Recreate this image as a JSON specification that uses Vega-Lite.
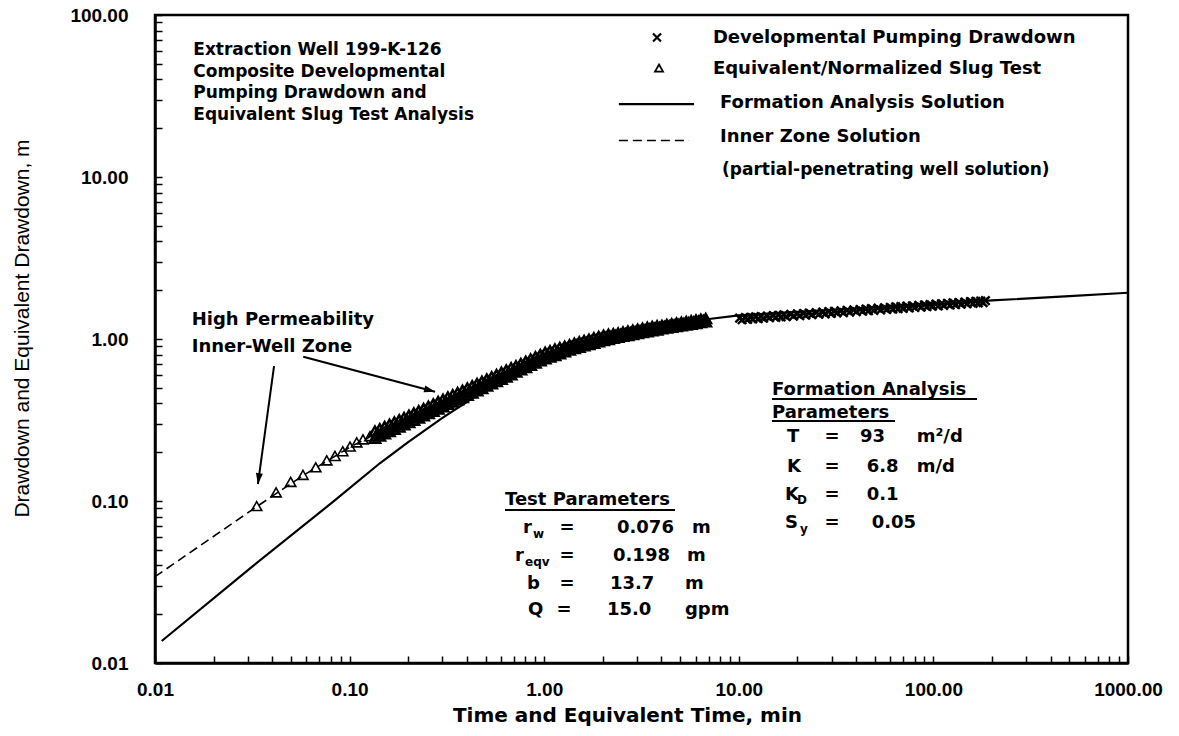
{
  "$schema": "https://vega.github.io/schema/vega-lite/v6.json",
  "width": 973,
  "height": 648,
  "autosize": {"type": "none"},
  "padding": {"left": 155, "top": 15, "right": 51, "bottom": 73},
  "background": "white",
  "config": {
    "view": {"stroke": "black", "strokeWidth": 2.5},
    "axis": {
      "domainColor": "black", "domainWidth": 2.5,
      "tickColor": "black", "tickWidth": 1.5, "tickSize": -7,
      "labelFont": "Liberation Sans", "labelFontWeight": "bold", "labelFontSize": 19, "labelColor": "black",
      "labelFlush": false, "labelOverlap": false, "grid": false,
      "titleColor": "black"
    },
    "text": {"font": "DejaVu Sans", "fontWeight": "bold", "fontSize": 18, "color": "black"}
  },
  "datasets": {
    "inner": [
      {"t": 0.01, "s": 0.0341}, {"t": 0.0333, "s": 0.0922}, {"t": 0.0576, "s": 0.1436},
      {"t": 0.1005, "s": 0.215}, {"t": 0.1273, "s": 0.249}, {"t": 0.2, "s": 0.322}, {"t": 0.3, "s": 0.40}
    ],
    "formation": [
      {"t": 0.01083, "s": 0.01367}, {"t": 0.0308, "s": 0.0384}, {"t": 0.0824, "s": 0.0991},
      {"t": 0.143, "s": 0.171}, {"t": 0.2, "s": 0.231}, {"t": 0.3, "s": 0.326}, {"t": 0.45, "s": 0.448},
      {"t": 0.6, "s": 0.55}, {"t": 0.8, "s": 0.655},
      {"t": 1.0, "s": 0.735}, {"t": 1.5, "s": 0.87}, {"t": 2.0, "s": 0.96}, {"t": 3.0, "s": 1.09},
      {"t": 4.5, "s": 1.21}, {"t": 6.7, "s": 1.32}, {"t": 10, "s": 1.40}, {"t": 20, "s": 1.47},
      {"t": 50, "s": 1.565}, {"t": 100, "s": 1.645}, {"t": 200, "s": 1.73}, {"t": 500, "s": 1.84},
      {"t": 1000, "s": 1.93}
    ],
    "slug": [
      {"t": 0.0333, "s": 0.0922}, {"t": 0.0419, "s": 0.112}, {"t": 0.0498, "s": 0.130},
      {"t": 0.0576, "s": 0.1436}, {"t": 0.0670, "s": 0.160}, {"t": 0.0763, "s": 0.1766},
      {"t": 0.0841, "s": 0.188}, {"t": 0.0922, "s": 0.201}, {"t": 0.1005, "s": 0.215},
      {"t": 0.1088, "s": 0.228}, {"t": 0.1172, "s": 0.238}, {"t": 0.1273, "s": 0.249},
      {"t": 0.1349, "s": 0.2672}, {"t": 0.1349, "s": 0.2415}, {"t": 0.1389, "s": 0.2582},
      {"t": 0.1429, "s": 0.2759}, {"t": 0.1429, "s": 0.2493}, {"t": 0.1471, "s": 0.2666},
      {"t": 0.1514, "s": 0.2850}, {"t": 0.1514, "s": 0.2575}, {"t": 0.1558, "s": 0.2753},
      {"t": 0.1603, "s": 0.2943}, {"t": 0.1603, "s": 0.2660}, {"t": 0.1650, "s": 0.2844},
      {"t": 0.1698, "s": 0.3040}, {"t": 0.1698, "s": 0.2747}, {"t": 0.1748, "s": 0.2937},
      {"t": 0.1799, "s": 0.3139}, {"t": 0.1799, "s": 0.2837}, {"t": 0.1851, "s": 0.3033},
      {"t": 0.1905, "s": 0.3242}, {"t": 0.1905, "s": 0.2930}, {"t": 0.1961, "s": 0.3132},
      {"t": 0.2018, "s": 0.3349}, {"t": 0.2018, "s": 0.3026}, {"t": 0.2077, "s": 0.3235},
      {"t": 0.2138, "s": 0.3458}, {"t": 0.2138, "s": 0.3125}, {"t": 0.2200, "s": 0.3341},
      {"t": 0.2265, "s": 0.3572}, {"t": 0.2265, "s": 0.3227}, {"t": 0.2331, "s": 0.3450},
      {"t": 0.2399, "s": 0.3688}, {"t": 0.2399, "s": 0.3333}, {"t": 0.2469, "s": 0.3563},
      {"t": 0.2541, "s": 0.3809}, {"t": 0.2541, "s": 0.3442}, {"t": 0.2616, "s": 0.3680},
      {"t": 0.2692, "s": 0.3934}, {"t": 0.2692, "s": 0.3555}, {"t": 0.2771, "s": 0.3800},
      {"t": 0.2851, "s": 0.4063}, {"t": 0.2851, "s": 0.3671}, {"t": 0.2935, "s": 0.3925},
      {"t": 0.3020, "s": 0.4195}, {"t": 0.3020, "s": 0.3791}, {"t": 0.3108, "s": 0.4053},
      {"t": 0.3199, "s": 0.4333}, {"t": 0.3199, "s": 0.3916}, {"t": 0.3293, "s": 0.4186},
      {"t": 0.3388, "s": 0.4475}, {"t": 0.3388, "s": 0.4044}, {"t": 0.3487, "s": 0.4323},
      {"t": 0.3589, "s": 0.4622}, {"t": 0.3589, "s": 0.4177}, {"t": 0.3694, "s": 0.4465},
      {"t": 0.3802, "s": 0.4774}, {"t": 0.3802, "s": 0.4314}, {"t": 0.3913, "s": 0.4611},
      {"t": 0.4027, "s": 0.4931}, {"t": 0.4027, "s": 0.4455}, {"t": 0.4145, "s": 0.4762},
      {"t": 0.4266, "s": 0.5092}, {"t": 0.4266, "s": 0.4601}, {"t": 0.4391, "s": 0.4918},
      {"t": 0.4519, "s": 0.5259}, {"t": 0.4519, "s": 0.4752}, {"t": 0.4651, "s": 0.5080},
      {"t": 0.4786, "s": 0.5430}, {"t": 0.4786, "s": 0.4907}, {"t": 0.4926, "s": 0.5246},
      {"t": 0.5070, "s": 0.5595}, {"t": 0.5070, "s": 0.5079}, {"t": 0.5218, "s": 0.5418},
      {"t": 0.5370, "s": 0.5779}, {"t": 0.5370, "s": 0.5246}, {"t": 0.5527, "s": 0.5596},
      {"t": 0.5689, "s": 0.5968}, {"t": 0.5689, "s": 0.5419}, {"t": 0.5855, "s": 0.5780},
      {"t": 0.6026, "s": 0.6164}, {"t": 0.6026, "s": 0.5596}, {"t": 0.6202, "s": 0.5969},
      {"t": 0.6383, "s": 0.6366}, {"t": 0.6383, "s": 0.5780}, {"t": 0.6570, "s": 0.6166},
      {"t": 0.6761, "s": 0.6575}, {"t": 0.6761, "s": 0.5969}, {"t": 0.6958, "s": 0.6366},
      {"t": 0.7161, "s": 0.6758}, {"t": 0.7161, "s": 0.6192}, {"t": 0.7370, "s": 0.6574},
      {"t": 0.7586, "s": 0.6980}, {"t": 0.7586, "s": 0.6395}, {"t": 0.7807, "s": 0.6790},
      {"t": 0.8035, "s": 0.7208}, {"t": 0.8035, "s": 0.6605}, {"t": 0.8270, "s": 0.7012},
      {"t": 0.8511, "s": 0.7446}, {"t": 0.8511, "s": 0.6822}, {"t": 0.8760, "s": 0.7243},
      {"t": 0.9016, "s": 0.7689}, {"t": 0.9016, "s": 0.7045}, {"t": 0.9279, "s": 0.7480},
      {"t": 0.9550, "s": 0.7942}, {"t": 0.9550, "s": 0.7277}, {"t": 0.9829, "s": 0.7720},
      {"t": 1.0116, "s": 0.8184}, {"t": 1.0116, "s": 0.7499}, {"t": 1.041, "s": 0.7925},
      {"t": 1.0715, "s": 0.8375}, {"t": 1.0715, "s": 0.7674}, {"t": 1.103, "s": 0.8110},
      {"t": 1.135, "s": 0.8571}, {"t": 1.135, "s": 0.7853}, {"t": 1.168, "s": 0.8300},
      {"t": 1.202, "s": 0.8770}, {"t": 1.202, "s": 0.8036}, {"t": 1.237, "s": 0.8490},
      {"t": 1.274, "s": 0.8912}, {"t": 1.274, "s": 0.8280}, {"t": 1.311, "s": 0.8690},
      {"t": 1.349, "s": 0.9120}, {"t": 1.349, "s": 0.8473}, {"t": 1.389, "s": 0.8890},
      {"t": 1.429, "s": 0.9323}, {"t": 1.429, "s": 0.8662}, {"t": 1.471, "s": 0.9070},
      {"t": 1.514, "s": 0.9504}, {"t": 1.514, "s": 0.8829}, {"t": 1.558, "s": 0.9250},
      {"t": 1.603, "s": 0.9685}, {"t": 1.603, "s": 0.8998}, {"t": 1.650, "s": 0.9420},
      {"t": 1.698, "s": 0.9872}, {"t": 1.698, "s": 0.9172}, {"t": 1.748, "s": 0.9610},
      {"t": 1.799, "s": 1.0060}, {"t": 1.799, "s": 0.9346}, {"t": 1.851, "s": 0.9790},
      {"t": 1.905, "s": 1.0254}, {"t": 1.905, "s": 0.9526}, {"t": 1.961, "s": 0.9970},
      {"t": 2.018, "s": 1.0439}, {"t": 2.018, "s": 0.9699}, {"t": 2.077, "s": 1.0130},
      {"t": 2.138, "s": 1.0577}, {"t": 2.138, "s": 0.9827}, {"t": 2.200, "s": 1.0260},
      {"t": 2.265, "s": 1.0646}, {"t": 2.265, "s": 1.0027}, {"t": 2.331, "s": 1.0400},
      {"t": 2.399, "s": 1.0787}, {"t": 2.399, "s": 1.0160}, {"t": 2.469, "s": 1.0540},
      {"t": 2.541, "s": 1.0933}, {"t": 2.541, "s": 1.0297}, {"t": 2.616, "s": 1.0680},
      {"t": 2.692, "s": 1.1077}, {"t": 2.692, "s": 1.0433}, {"t": 2.771, "s": 1.0820},
      {"t": 2.851, "s": 1.1225}, {"t": 2.851, "s": 1.0573}, {"t": 2.935, "s": 1.0970},
      {"t": 3.020, "s": 1.1374}, {"t": 3.020, "s": 1.0712}, {"t": 3.108, "s": 1.1110},
      {"t": 3.199, "s": 1.1526}, {"t": 3.199, "s": 1.0856}, {"t": 3.293, "s": 1.1260},
      {"t": 3.388, "s": 1.1679}, {"t": 3.388, "s": 1.1000}, {"t": 3.487, "s": 1.1410},
      {"t": 3.589, "s": 1.1831}, {"t": 3.589, "s": 1.1143}, {"t": 3.694, "s": 1.1540},
      {"t": 3.802, "s": 1.1960}, {"t": 3.802, "s": 1.1265}, {"t": 3.913, "s": 1.1670},
      {"t": 4.027, "s": 1.2009}, {"t": 4.027, "s": 1.1468}, {"t": 4.145, "s": 1.1800},
      {"t": 4.266, "s": 1.2140}, {"t": 4.266, "s": 1.1594}, {"t": 4.391, "s": 1.1930},
      {"t": 4.519, "s": 1.2274}, {"t": 4.519, "s": 1.1722}, {"t": 4.651, "s": 1.2060},
      {"t": 4.786, "s": 1.2409}, {"t": 4.786, "s": 1.1850}, {"t": 4.926, "s": 1.2190},
      {"t": 5.070, "s": 1.2547}, {"t": 5.070, "s": 1.1982}, {"t": 5.218, "s": 1.2330},
      {"t": 5.370, "s": 1.2684}, {"t": 5.370, "s": 1.2112}, {"t": 5.527, "s": 1.2460},
      {"t": 5.689, "s": 1.2823}, {"t": 5.689, "s": 1.2245}, {"t": 5.855, "s": 1.2600},
      {"t": 6.026, "s": 1.2963}, {"t": 6.026, "s": 1.2379}, {"t": 6.202, "s": 1.2740},
      {"t": 6.383, "s": 1.3107}, {"t": 6.383, "s": 1.2517}, {"t": 6.570, "s": 1.2880},
      {"t": 6.761, "s": 1.3246}, {"t": 6.761, "s": 1.2649}
    ],
    "pump": [
      {"t": 10.1, "s": 1.347}, {"t": 10.4, "s": 1.315}, {"t": 10.8, "s": 1.355}, {"t": 11.1, "s": 1.323},
      {"t": 11.5, "s": 1.362}, {"t": 11.8, "s": 1.330}, {"t": 12.2, "s": 1.369}, {"t": 12.6, "s": 1.337},
      {"t": 13, "s": 1.376}, {"t": 13.4, "s": 1.344}, {"t": 14, "s": 1.385}, {"t": 14.4, "s": 1.353},
      {"t": 15, "s": 1.394}, {"t": 15.5, "s": 1.361}, {"t": 16, "s": 1.402}, {"t": 16.5, "s": 1.369},
      {"t": 17, "s": 1.409}, {"t": 17.5, "s": 1.375}, {"t": 18.5, "s": 1.419}, {"t": 19.1, "s": 1.385},
      {"t": 20, "s": 1.428}, {"t": 20.6, "s": 1.394}, {"t": 21.5, "s": 1.437}, {"t": 22.1, "s": 1.403},
      {"t": 23, "s": 1.445}, {"t": 23.7, "s": 1.411}, {"t": 25, "s": 1.455}, {"t": 25.8, "s": 1.421},
      {"t": 27, "s": 1.465}, {"t": 27.8, "s": 1.431}, {"t": 29, "s": 1.474}, {"t": 29.9, "s": 1.440},
      {"t": 31, "s": 1.483}, {"t": 31.9, "s": 1.448}, {"t": 33.5, "s": 1.492}, {"t": 34.5, "s": 1.456},
      {"t": 36, "s": 1.501}, {"t": 37.1, "s": 1.465}, {"t": 39, "s": 1.511}, {"t": 40.2, "s": 1.475},
      {"t": 42, "s": 1.521}, {"t": 43.3, "s": 1.485}, {"t": 45, "s": 1.530}, {"t": 46.4, "s": 1.494},
      {"t": 48, "s": 1.538}, {"t": 49.4, "s": 1.502}, {"t": 52, "s": 1.549}, {"t": 53.6, "s": 1.513},
      {"t": 56, "s": 1.558}, {"t": 57.7, "s": 1.522}, {"t": 60, "s": 1.568}, {"t": 61.8, "s": 1.531},
      {"t": 64, "s": 1.577}, {"t": 65.9, "s": 1.539}, {"t": 68, "s": 1.585}, {"t": 70.0, "s": 1.547},
      {"t": 73, "s": 1.594}, {"t": 75.2, "s": 1.556}, {"t": 78, "s": 1.603}, {"t": 80.3, "s": 1.565},
      {"t": 84, "s": 1.613}, {"t": 86.5, "s": 1.575}, {"t": 90, "s": 1.623}, {"t": 92.7, "s": 1.585},
      {"t": 96, "s": 1.632}, {"t": 98.9, "s": 1.594}, {"t": 103, "s": 1.641}, {"t": 106, "s": 1.603},
      {"t": 110, "s": 1.651}, {"t": 113, "s": 1.612}, {"t": 118, "s": 1.661}, {"t": 122, "s": 1.621},
      {"t": 126, "s": 1.670}, {"t": 130, "s": 1.630}, {"t": 135, "s": 1.680}, {"t": 139, "s": 1.640},
      {"t": 145, "s": 1.690}, {"t": 149, "s": 1.650}, {"t": 155, "s": 1.700}, {"t": 160, "s": 1.660},
      {"t": 165, "s": 1.709}, {"t": 170, "s": 1.669}, {"t": 175, "s": 1.717}, {"t": 180, "s": 1.677},
      {"t": 185, "s": 1.725}
    ],
    "legendX": [{"t": 3.80, "s": 72.6}],
    "legendTri": [{"t": 3.89, "s": 46.7}],
    "legendSolid": [{"t": 2.42, "t2": 5.89, "s": 28.2}],
    "legendDash": [{"t": 2.42, "t2": 5.55, "s": 16.8}],
    "notes18": [
      {"t": 7.36, "s": 72.6, "label": "Developmental Pumping Drawdown"},
      {"t": 7.36, "s": 46.7, "label": "Equivalent/Normalized Slug Test"},
      {"t": 8.01, "s": 28.6, "label": "Formation Analysis Solution"},
      {"t": 8.01, "s": 17.7, "label": "Inner Zone Solution"},
      {"t": 0.01544, "s": 1.310, "label": "High Permeability"},
      {"t": 0.01544, "s": 0.889, "label": "Inner-Well Zone"},
      {"t": 0.629, "s": 0.1014, "label": "Test Parameters"},
      {"t": 14.81, "s": 0.4843, "label": "Formation Analysis"},
      {"t": 14.81, "s": 0.3493, "label": "Parameters"}
    ],
    "notes17": [
      {"t": 0.01573, "s": 60.8, "label": "Extraction Well 199-K-126"},
      {"t": 0.01573, "s": 44.7, "label": "Composite Developmental"},
      {"t": 0.01573, "s": 32.9, "label": "Pumping Drawdown and"},
      {"t": 0.01573, "s": 24.1, "label": "Equivalent Slug Test Analysis"},
      {"t": 8.2, "s": 11.0, "label": "(partial-penetrating well solution)"}
    ],
    "paramsLeft": [
      {"t": 0.778, "s": 0.0681, "label": "r"}, {"t": 0.708, "s": 0.0458, "label": "r"},
      {"t": 0.816, "s": 0.0307, "label": "b"}, {"t": 0.826, "s": 0.02125, "label": "Q"},
      {"t": 2.366, "s": 0.0681, "label": "0.076"}, {"t": 2.257, "s": 0.0458, "label": "0.198"},
      {"t": 2.178, "s": 0.0307, "label": "13.7"}, {"t": 2.102, "s": 0.02125, "label": "15.0"},
      {"t": 5.75, "s": 0.0681, "label": "m"}, {"t": 5.42, "s": 0.0458, "label": "m"},
      {"t": 5.29, "s": 0.0307, "label": "m"}, {"t": 5.29, "s": 0.02125, "label": "gpm"},
      {"t": 17.69, "s": 0.2483, "label": "T"}, {"t": 17.69, "s": 0.1622, "label": "K"},
      {"t": 17.28, "s": 0.1089, "label": "K"}, {"t": 17.28, "s": 0.0731, "label": "S"},
      {"t": 41.96, "s": 0.2483, "label": "93"}, {"t": 45.43, "s": 0.1622, "label": "6.8"},
      {"t": 45.43, "s": 0.1089, "label": "0.1"}, {"t": 48.19, "s": 0.0731, "label": "0.05"},
      {"t": 82.1, "s": 0.2483, "label": "m²/d"}, {"t": 82.1, "s": 0.1622, "label": "m/d"}
    ],
    "paramsEq": [
      {"t": 1.309, "s": 0.0681, "label": "="}, {"t": 1.309, "s": 0.0458, "label": "="},
      {"t": 1.309, "s": 0.0307, "label": "="}, {"t": 1.264, "s": 0.02125, "label": "="},
      {"t": 30.1, "s": 0.2483, "label": "="}, {"t": 30.1, "s": 0.1622, "label": "="},
      {"t": 30.1, "s": 0.1089, "label": "="}, {"t": 30.1, "s": 0.0731, "label": "="}
    ],
    "subs": [
      {"t": 0.876, "s": 0.0626, "label": "w"}, {"t": 0.797, "s": 0.0420, "label": "eqv"},
      {"t": 19.91, "s": 0.1014, "label": "D"}, {"t": 20.63, "s": 0.0672, "label": "y"}
    ],
    "underlines": [
      {"t": 0.629, "t2": 4.70, "s": 0.0880},
      {"t": 14.81, "t2": 167.5, "s": 0.4263},
      {"t": 14.81, "t2": 63.5, "s": 0.3118}
    ],
    "arrows": [
      {"t": 0.0409, "s": 0.681, "t2": 0.0338, "s2": 0.127},
      {"t": 0.0578, "s": 0.778, "t2": 0.2748, "s2": 0.473}
    ],
    "head1": [{"t": 0.0338, "s": 0.127}],
    "head2": [{"t": 0.2748, "s": 0.473}]
  },
  "encoding": {
    "x": {
      "field": "t", "type": "quantitative",
      "scale": {"type": "log", "domain": [0.01, 1000], "nice": false},
      "axis": {
        "values": [0.01,0.02,0.03,0.04,0.05,0.06,0.07,0.08,0.09,0.1,0.2,0.3,0.4,0.5,0.6,0.7,0.8,0.9,1,2,3,4,5,6,7,8,9,10,20,30,40,50,60,70,80,90,100,200,300,400,500,600,700,800,900,1000],
        "labelExpr": "indexof([0.01,0.1,1,10,100,1000], datum.value) >= 0 ? format(datum.value, '.2f') : ''",
        "labelPadding": 24,
        "title": "Time and Equivalent Time, min",
        "titleFont": "DejaVu Sans", "titleFontWeight": "bold", "titleFontSize": 20,
        "titleX": 472, "titleY": 52, "titleBaseline": "middle", "titleAlign": "center"
      }
    },
    "y": {
      "field": "s", "type": "quantitative",
      "scale": {"type": "log", "domain": [0.01, 100], "nice": false},
      "axis": {
        "values": [0.01,0.02,0.03,0.04,0.05,0.06,0.07,0.08,0.09,0.1,0.2,0.3,0.4,0.5,0.6,0.7,0.8,0.9,1,2,3,4,5,6,7,8,9,10,20,30,40,50,60,70,80,90,100],
        "labelExpr": "indexof([0.01,0.1,1,10,100], datum.value) >= 0 ? format(datum.value, '.2f') : ''",
        "labelPadding": 34,
        "title": "Drawdown and Equivalent Drawdown, m",
        "titleFont": "Liberation Sans", "titleFontWeight": "normal", "titleFontSize": 21,
        "titleAngle": -90, "titleX": -133, "titleY": 313, "titleBaseline": "middle", "titleAlign": "center"
      }
    }
  },
  "layer": [
    {"data": {"name": "inner"}, "mark": {"type": "line", "color": "black", "strokeWidth": 1.6, "strokeDash": [9, 5], "clip": true}, "encoding": {}},
    {"data": {"name": "formation"}, "mark": {"type": "line", "color": "black", "strokeWidth": 2.2, "clip": true}, "encoding": {}},
    {"data": {"name": "slug"}, "transform": [{"filter": "datum.t < 0.13"}], "mark": {"type": "point", "shape": "M0,-1L1,0.75L-1,0.75Z", "size": 105, "filled": false, "stroke": "black", "strokeWidth": 1.6, "opacity": 1}},
    {"data": {"name": "slug"}, "transform": [{"filter": "datum.t >= 0.13"}], "mark": {"type": "point", "shape": "M0,-1L1,0.75L-1,0.75Z", "size": 105, "filled": false, "stroke": "black", "strokeWidth": 2.6, "opacity": 1}},
    {"data": {"name": "pump"}, "mark": {"type": "point", "shape": "M-1,-1L1,1M-1,1L1,-1", "size": 72, "filled": false, "stroke": "black", "strokeWidth": 2.4, "opacity": 1}},
    {"data": {"name": "legendX"}, "mark": {"type": "point", "shape": "M-1,-1L1,1M-1,1L1,-1", "size": 64, "filled": false, "stroke": "black", "strokeWidth": 2.2, "opacity": 1}},
    {"data": {"name": "legendTri"}, "mark": {"type": "point", "shape": "M0,-1L1,0.75L-1,0.75Z", "size": 64, "filled": false, "stroke": "black", "strokeWidth": 1.8, "opacity": 1}},
    {"data": {"name": "legendSolid"}, "mark": {"type": "rule", "color": "black", "strokeWidth": 2.2}, "encoding": {"x2": {"field": "t2"}}},
    {"data": {"name": "legendDash"}, "mark": {"type": "rule", "color": "black", "strokeWidth": 1.6, "strokeDash": [9, 5]}, "encoding": {"x2": {"field": "t2"}}},
    {"data": {"name": "underlines"}, "mark": {"type": "rule", "color": "black", "strokeWidth": 2}, "encoding": {"x2": {"field": "t2"}}},
    {"data": {"name": "arrows"}, "mark": {"type": "rule", "color": "black", "strokeWidth": 2}, "encoding": {"x2": {"field": "t2"}, "y2": {"field": "s2"}}},
    {"data": {"name": "head1"}, "mark": {"type": "point", "shape": "M0,0L-0.32,-1L0.32,-1Z", "size": 484, "filled": true, "color": "black", "opacity": 1, "angle": 7.7}},
    {"data": {"name": "head2"}, "mark": {"type": "point", "shape": "M0,0L-0.32,-1L0.32,-1Z", "size": 484, "filled": true, "color": "black", "opacity": 1, "angle": -75.1}},
    {"data": {"name": "notes18"}, "mark": {"type": "text", "align": "left", "baseline": "middle", "fontSize": 18}, "encoding": {"text": {"field": "label"}}},
    {"data": {"name": "notes17"}, "mark": {"type": "text", "align": "left", "baseline": "middle", "fontSize": 17}, "encoding": {"text": {"field": "label"}}},
    {"data": {"name": "paramsLeft"}, "mark": {"type": "text", "align": "left", "baseline": "middle", "fontSize": 18}, "encoding": {"text": {"field": "label"}}},
    {"data": {"name": "paramsEq"}, "mark": {"type": "text", "align": "center", "baseline": "middle", "fontSize": 18}, "encoding": {"text": {"field": "label"}}},
    {"data": {"name": "subs"}, "mark": {"type": "text", "align": "left", "baseline": "middle", "fontSize": 12}, "encoding": {"text": {"field": "label"}}}
  ]
}
